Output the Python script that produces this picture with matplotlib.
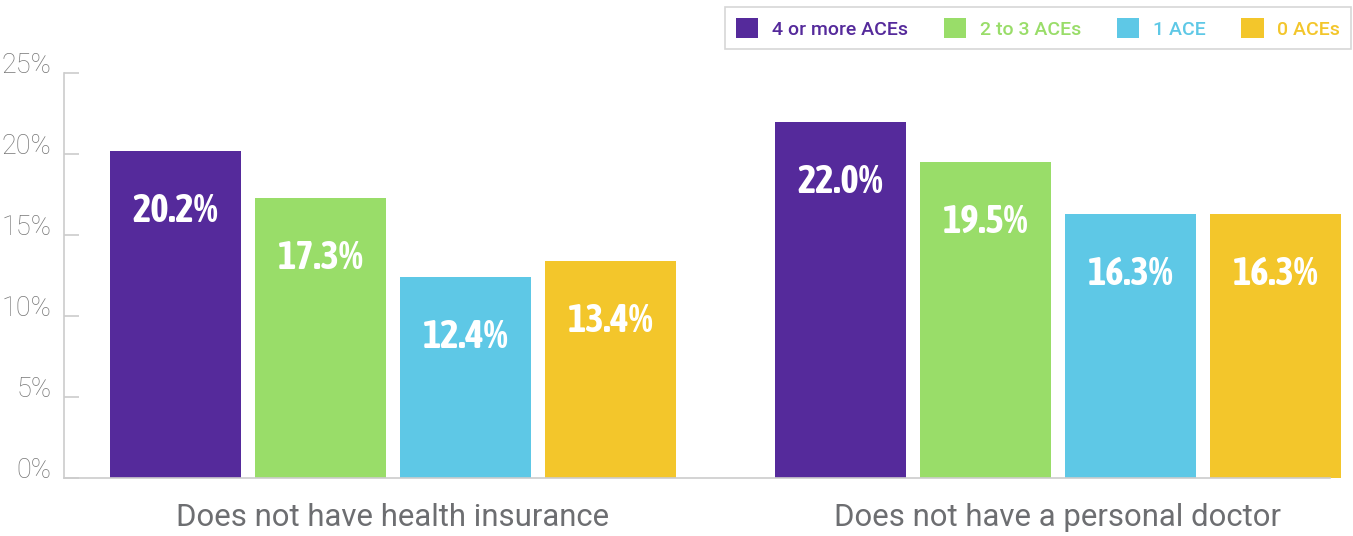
import matplotlib
matplotlib.use("Agg")
import matplotlib.pyplot as plt
from matplotlib.patches import Patch
from matplotlib import font_manager
from matplotlib.font_manager import FontProperties

# data
groups = ["Does not have health insurance", "Does not have a personal doctor"]
series = ["4 or more ACEs", "2 to 3 ACEs", "1 ACE", "0 ACEs"]
values = [
  [20.2, 22.0],  # 4 or more
  [17.3, 19.5],  # 2 to 3
  [12.4, 16.3],  # 1
  [13.4, 16.3],  # 0
]
yticks = [0, 5, 10, 15, 20, 25]
colors = ["#552a9b", "#99dd69", "#5ec8e6", "#f3c62b"]

gray = "#6d6e71"
light = "#cccccc"


def weight_num(w):
  if isinstance(w, (int, float)):
    return w
  return font_manager.weight_dict.get(w, 400)


# the value labels use a condensed bold face; take the one closest to bold
narrow = [f for f in font_manager.fontManager.ttflist
          if ("Condensed" in f.name or "Narrow" in f.name) and f.style == "normal"]
if narrow:
  best = min(narrow, key=lambda f: abs(weight_num(f.weight) - 700))
  label_prop = FontProperties(fname=best.fname, size=28)
else:
  label_prop = FontProperties(family="Roboto", weight="bold", size=24)

fig = plt.figure(figsize=(13.53, 5.36), dpi=100)
# axes: left spine at x=64px, baseline at y=478px, 25% at y=73px
ax = fig.add_axes([64 / 1353, 58 / 536, (1353 - 64) / 1353, 405 / 536])

width = 131 / 665
step = 145 / 665
for i in range(len(series)):
  xs = [g + (i - 1.5) * step for g in range(len(groups))]
  ax.bar(xs, values[i], width=width, color=colors[i], clip_on=False, zorder=2)
  for x, v in zip(xs, values[i]):
    ax.text(x, v - 3.7, f"{v:.1f}%", ha="center", va="center", color="white",
            zorder=3, fontproperties=label_prop)

ax.set_xlim((64 - 393) / 665, (1353 - 393) / 665)
ax.set_ylim(0, 25)

for s in ["top", "right"]:
  ax.spines[s].set_visible(False)
ax.spines["left"].set_color(light)
ax.spines["bottom"].set_color(light)
ax.spines["left"].set_linewidth(1.2)
ax.spines["bottom"].set_linewidth(1.2)
ax.spines["bottom"].set_bounds((64 - 393) / 665, (1330 - 393) / 665)

ax.set_yticks(yticks)
ax.set_yticklabels([f"{t}%" for t in yticks], family="Roboto", fontweight="light")
ax.tick_params(axis="y", direction="in", length=11, width=1.2, color=light,
               labelsize=19.5, labelcolor="#777777", pad=9)
for lab in ax.get_yticklabels():
  lab.set_va("baseline")
ax.set_xticks(range(len(groups)))
ax.set_xticklabels(groups, family="Roboto", fontsize=22.4, color=gray)
ax.tick_params(axis="x", length=0, pad=18)

handles = [Patch(facecolor=c, edgecolor="none") for c in colors]
leg = fig.legend(handles, series, loc="upper right", bbox_to_anchor=(1351 / 1353, 1 - 7 / 536),
                 borderaxespad=0, ncol=4, frameon=True, fancybox=False, edgecolor=light,
                 prop={"family": "Roboto", "weight": "medium", "size": 14},
                 handlelength=1.15, handleheight=1.25, handletextpad=0.7,
                 columnspacing=1.85, borderpad=0.55, labelcolor=colors)
leg.get_frame().set_linewidth(1.2)

fig.savefig("out.png", dpi=100)
